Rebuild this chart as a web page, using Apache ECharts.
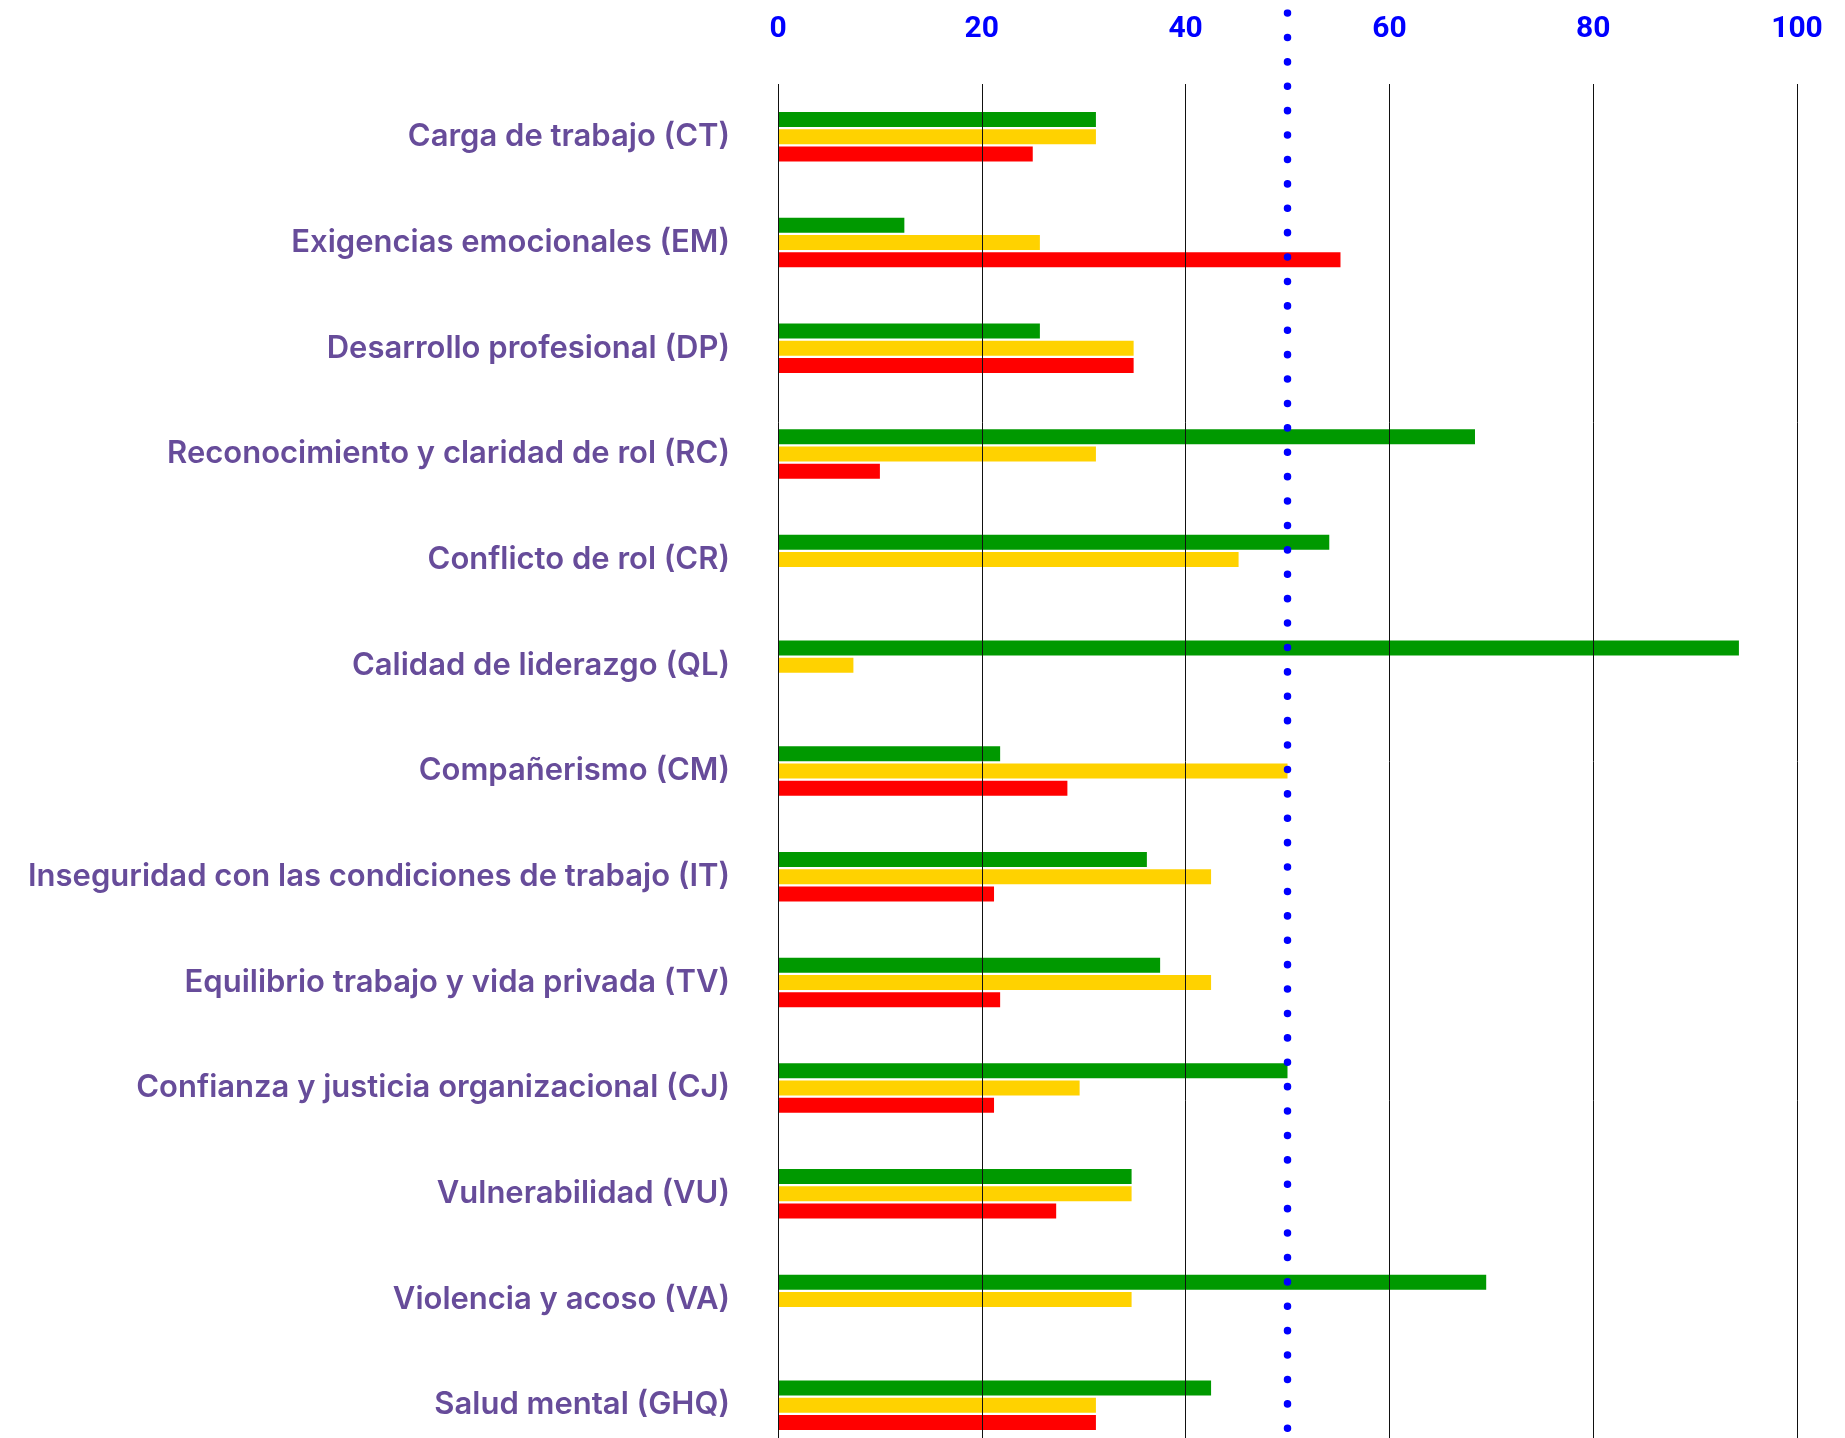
<!DOCTYPE html>
<html>
<head>
<meta charset="utf-8">
<script src="https://cdn.jsdelivr.net/npm/echarts@6/dist/echarts.min.js"></script>
<style>
  html, body { margin: 0; padding: 0; background: #fff; }
  #chart { width: 1845px; height: 1438px; }
</style>
</head>
<body>
<div id="chart"></div>
<script>
const categories = [
  "Carga de trabajo (CT)",
  "Exigencias emocionales (EM)",
  "Desarrollo profesional (DP)",
  "Reconocimiento y claridad de rol (RC)",
  "Conflicto de rol (CR)",
  "Calidad de liderazgo (QL)",
  "Compañerismo (CM)",
  "Inseguridad con las condiciones de trabajo (IT)",
  "Equilibrio trabajo y vida privada (TV)",
  "Confianza y justicia organizacional (CJ)",
  "Vulnerabilidad (VU)",
  "Violencia y acoso (VA)",
  "Salud mental (GHQ)"
];
const greenValues = [31.2, 12.4, 25.7, 68.4, 54.1, 94.3, 21.8, 36.2, 37.5, 50, 34.7, 69.5, 42.5];
const yellowValues = [31.2, 25.7, 34.9, 31.2, 45.2, 7.4, 50, 42.5, 42.5, 29.6, 34.7, 34.7, 31.2];
const redValues = [25, 55.2, 34.9, 10, null, null, 28.4, 21.2, 21.8, 21.2, 27.3, null, 31.2];
const xTicks = [0, 20, 40, 60, 80, 100];
const refValue = 50;

const makeBar = (name, data, color) => ({
  name,
  type: "bar",
  data,
  barWidth: 15,
  barGap: "15%",
  itemStyle: { color },
  xAxisIndex: 0,
  yAxisIndex: 0,
  z: 2,
});

const option = {
  animation: false,
  backgroundColor: "#ffffff",
  grid: [
    // plot runs past the bottom edge, like the original
    { left: 778, right: 48, top: 84, height: 1374, outerBoundsMode: "none" },
    { left: 778, right: 48, top: 13, height: 1445, outerBoundsMode: "none" },
  ],
  xAxis: [
    {
      type: "value",
      gridIndex: 0,
      position: "top",
      min: xTicks[0],
      max: xTicks[xTicks.length - 1],
      interval: 20,
      z: 5,
      axisLine: { show: false },
      axisTick: { show: false },
      axisLabel: {
        color: "#0000ff",
        fontFamily: "Roboto",
        fontWeight: "bold",
        fontSize: 30,
        margin: 40,
      },
      splitLine: { show: true, lineStyle: { color: "#111111", width: 1 } },
    },
    {
      type: "value",
      gridIndex: 1,
      min: 0,
      max: 100,
      show: false,
    },
  ],
  yAxis: [
    {
      type: "category",
      gridIndex: 0,
      data: categories,
      inverse: true,
      axisLine: { show: false },
      axisTick: { show: false },
      splitLine: { show: false },
      axisLabel: {
        color: "#674c9a",
        fontFamily: "Inter",
        fontWeight: 600,
        fontSize: 31,
        margin: 48,
      },
    },
    {
      type: "value",
      gridIndex: 1,
      min: 0,
      max: 1,
      show: false,
    },
  ],
  series: [
    makeBar("Verde", greenValues, "#009900"),
    makeBar("Amarillo", yellowValues, "#ffd200"),
    makeBar("Rojo", redValues, "#ff0000"),
    {
      type: "line",
      xAxisIndex: 1,
      yAxisIndex: 1,
      data: [[refValue, 1], [refValue, 0]],
      symbol: "none",
      z: 6,
      lineStyle: {
        color: "#0000ff",
        width: 7.5,
        type: [0.1, 24.3],
        cap: "round",
      },
    },
  ],
};

const chart = echarts.init(document.getElementById("chart"));
chart.setOption(option);
</script>
</body>
</html>
